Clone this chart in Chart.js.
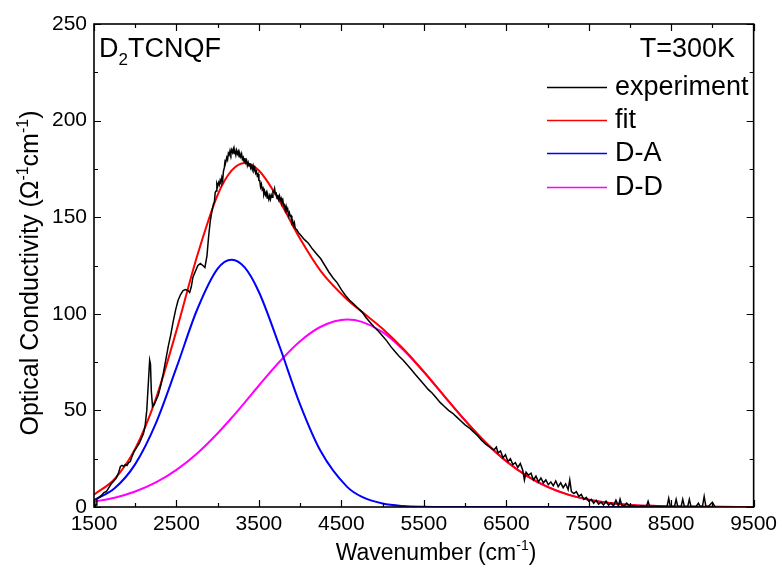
<!DOCTYPE html>
<html>
<head>
<meta charset="utf-8">
<script src="https://cdn.jsdelivr.net/npm/chart.js@4.4.1/dist/chart.umd.min.js"></script>
<style>
  html, body { margin: 0; padding: 0; background: #fff; }
</style>
</head>
<body>
<canvas id="chart" width="782" height="570"></canvas>
<script>
// ---- data ----
const xTickVals = [1500, 2500, 3500, 4500, 5500, 6500, 7500, 8500, 9500];
const xMinorVals = [2000, 3000, 4000, 5000, 6000, 7000, 8000, 9000];
const yTickVals = [0, 50, 100, 150, 200, 250];
const yMinorVals = [25, 75, 125, 175, 225];

// experiment (black, noisy)
const expWave = [
  1505, 1515, 1525, 1535, 1560, 1590, 1620, 1650, 1680, 1710, 1740, 1770, 1800, 1820, 1840, 1860, 1880, 1900, 1920, 1940,
  1960, 1990, 2020, 2050, 2080, 2100, 2120, 2140, 2160, 2175, 2185, 2195, 2210, 2230, 2250, 2280, 2310, 2340, 2370, 2400,
  2430, 2460, 2490, 2520, 2550, 2580, 2610, 2640, 2660, 2680, 2700, 2730, 2760, 2790, 2820, 2845, 2870, 2890, 2910, 2930,
  2950, 2960, 2970, 2980, 2990, 3000, 3010, 3020, 3030, 3040, 3050, 3060, 3070, 3080, 3090, 3100, 3110, 3120, 3130, 3140,
  3150, 3160, 3170, 3180, 3190, 3200, 3210, 3220, 3230, 3240, 3250, 3260, 3270, 3280, 3290, 3300, 3310, 3320, 3330, 3340,
  3350, 3360, 3370, 3380, 3390, 3400, 3410, 3420, 3430, 3440, 3450, 3460, 3470, 3480, 3490, 3500, 3510, 3520, 3530, 3540,
  3550, 3560, 3570, 3580, 3590, 3600, 3610, 3620, 3630, 3640, 3650, 3660, 3670, 3680, 3690, 3700, 3710, 3720, 3730, 3740,
  3750, 3760, 3770, 3780, 3790, 3800, 3810, 3820, 3830, 3840, 3850, 3860, 3870, 3880, 3890, 3900, 3910, 3920, 3930, 3940,
  3960, 3980, 4000, 4050, 4100, 4150, 4200, 4250, 4300, 4350, 4400,
  4450, 4500, 4550, 4600, 4650, 4700, 4750, 4800, 4850, 4900, 4950, 5000, 5050, 5100, 5150, 5200, 5250, 5300, 5350, 5400,
  5450, 5500, 5550, 5600, 5650, 5700, 5750, 5800, 5850, 5900, 5950, 6000, 6050, 6100, 6150, 6200, 6250, 6300, 6350, 6380,
  6400, 6430, 6460, 6490, 6520, 6550, 6580, 6610, 6640, 6670, 6700, 6720, 6740, 6770, 6800, 6830, 6860, 6890, 6920, 6950,
  6980, 7010, 7040, 7070, 7100, 7130, 7160, 7190, 7220, 7250, 7270, 7290, 7320, 7350, 7380, 7410, 7440, 7470, 7500, 7530,
  7560, 7590, 7620, 7650, 7680, 7710, 7740, 7770, 7800, 7830, 7860, 7880, 7900, 7930, 7960, 8000, 8050, 8100, 8150, 8200,
  8220, 8240, 8300, 8400, 8450, 8470, 8490, 8540, 8560, 8580, 8620, 8640, 8660, 8700, 8720, 8740, 8800, 8830, 8850, 8880,
  8900, 8920, 8950, 9000, 9030
];
const expVals = [
  3, 0.5, 1, 4, 5, 6, 7.5, 8, 10, 12, 13.5, 15, 18, 21, 21.5, 21, 22, 21.5, 23, 23.5,
  26, 29, 31, 33, 36, 38, 42, 50, 65, 76, 74, 60, 52, 53, 55, 58, 63, 69, 76, 83,
  89, 96, 102, 107, 110, 112, 112.5, 112, 111, 114, 119, 122, 125, 126, 125, 124, 130, 140, 148, 153,
  157, 157.8, 162.8, 163.5, 167.3, 166, 167.9, 166.7, 169.1, 167.8, 170.5, 168.8, 173.8, 175.5, 179.3, 179, 180.9, 179.7, 183.1, 182.3,
  184.5, 182.8, 184.8, 183.5, 185.3, 183, 184.2, 182.2, 184.6, 182.8, 184, 181.3, 182.8, 181.3, 182.8, 180, 180.9, 178.7, 180.6, 178.3,
  179.5, 176.8, 178.3, 176.5, 178, 175.5, 176.6, 174.7, 176.6, 174.3, 175.5, 172.8, 173.8, 171.5, 172.3, 169, 168.9, 165.7, 167.1, 164.3,
  165, 161.8, 163.3, 161.5, 162.8, 160, 161.1, 159.2, 161.1, 159.3, 161.5, 160.3, 163.3, 163, 164.8, 162, 162.4, 159.7, 161.6, 159.3,
  161, 158.8, 159.8, 157.5, 158.8, 156, 156.4, 153.7, 155.6, 153.3, 154, 150.8, 152.3, 150.5, 150.8, 147, 147.9, 145.7, 147.1, 144.3,
  143.5, 142, 141, 138.5, 136.5, 133.5, 131, 128.5, 125, 121.5, 118.5,
  116, 112.5, 109.5, 107, 105, 103, 101, 98, 95.5, 93, 91, 88.5, 86, 83, 80.5, 78, 76, 73.5, 71, 68.5,
  66, 63.5, 61, 59, 56.5, 54, 52, 50, 48.5, 46.5, 44.5, 42.5, 41, 39, 37, 34.5, 32.5, 31, 29.5, 31,
  28, 29, 25.5, 27, 23.5, 25, 22, 23, 20.5, 22.5, 19, 14, 18, 16.5, 17.5, 14, 16, 13, 15, 12.5,
  14, 11.5, 13, 11, 13.5, 10.5, 12.5, 10, 12, 9, 14, 8, 7, 8, 5.5, 6.5, 4, 5, 3, 4,
  2, 3.5, 1.5, 2.5, 1, 3, 1, 2, 0.5, 3.5, 0.5, 4, 1, 0.5, 2, 0.3, 0.8, 0.2, 0.5, 0.3,
  3, 0.2, 0.4, 0.2, 0.3, 4.5, 0.3, 0.2, 4, 0.3, 0.2, 4, 0.3, 0.2, 4, 0.3, 0.2, 2, 0.3, 0.5,
  5.5, 0.5, 0.3, 2.5, 0.2
];

// fitted components
const modelWave = [1500, 1750, 2000, 2250, 2500, 2750, 3000, 3170, 3330, 3500, 3750, 4000, 4250, 4570, 4750, 5000,
  5250, 5500, 5750, 6000, 6250, 6500, 6750, 7000, 7250, 7500, 7750, 8000, 8250, 8500, 9000, 9500];
const fitVals = [6.4, 14.5, 30.2, 56.0, 91.3, 129.8, 161.6, 174.2, 178.1, 174.2, 158.4, 138.8, 122.1, 107.4, 101.0, 92.3,
  81.9, 70.0, 57.3, 44.8, 33.4, 23.7, 16.1, 10.4, 6.4, 3.8, 2.1, 1.1, 0.6, 0.3, 0.1, 0];
const daVals = [3.6, 9.7, 22.2, 43.3, 72.1, 102.1, 123.4, 128, 123.9, 111.3, 83.2, 53.0, 28.8, 10.4, 5.2, 1.8,
  0.5, 0.1, 0, 0, 0, 0, 0, 0, 0, 0, 0, 0, 0, 0, 0, 0];
const ddVals = [2.8, 4.8, 8.0, 12.7, 19.2, 27.7, 38.2, 46.2, 54.2, 62.9, 75.2, 85.8, 93.3, 97, 95.8, 90.5,
  81.4, 69.9, 57.3, 44.8, 33.4, 23.7, 16.1, 10.4, 6.4, 3.8, 2.1, 1.1, 0.6, 0.3, 0.1, 0];

const seriesNames = ['experiment', 'fit', 'D-A', 'D-D'];
const seriesColors = ['#000000', '#ff0000', '#0000ff', '#ff00ff'];

const FONT = "'Liberation Sans', Arial, sans-serif";

const pts = (xs, ys) => xs.map((x, i) => ({ x, y: ys[i] }));

// text with sub/superscripts
function drawRich(ctx, parts, x, y, size, align) {
  const small = Math.round(size * 0.62);
  let w = 0;
  parts.forEach(p => {
    ctx.font = (p.sup || p.sub ? small : size) + 'px ' + FONT;
    w += ctx.measureText(p.t).width;
  });
  let cx = align === 'center' ? x - w / 2 : align === 'right' ? x - w : x;
  ctx.textAlign = 'left';
  ctx.textBaseline = 'alphabetic';
  parts.forEach(p => {
    ctx.font = (p.sup || p.sub ? small : size) + 'px ' + FONT;
    const dy = p.sup ? -size * 0.42 : p.sub ? size * 0.28 : 0;
    ctx.fillText(p.t, cx, y + dy);
    cx += ctx.measureText(p.t).width;
  });
}

// frame, inward ticks, labels, legend
const decor = {
  id: 'decor',
  afterDraw(chart) {
    const { ctx, chartArea: a, scales: { x, y } } = chart;
    ctx.save();
    ctx.strokeStyle = '#000';
    ctx.lineWidth = 1.6;
    ctx.strokeRect(a.left, a.top, a.right - a.left, a.bottom - a.top);

    ctx.lineWidth = 1.2;
    ctx.beginPath();
    const tickX = (vals, len) => vals.forEach(v => {
      const px = Math.round(x.getPixelForValue(v)) + 0.5;
      ctx.moveTo(px, a.bottom); ctx.lineTo(px, a.bottom - len);
      ctx.moveTo(px, a.top); ctx.lineTo(px, a.top + len);
    });
    const tickY = (vals, len) => vals.forEach(v => {
      const py = Math.round(y.getPixelForValue(v)) + 0.5;
      ctx.moveTo(a.left, py); ctx.lineTo(a.left + len, py);
      ctx.moveTo(a.right, py); ctx.lineTo(a.right - len, py);
    });
    tickX(xTickVals, 7); tickX(xMinorVals, 4);
    tickY(yTickVals, 7); tickY(yMinorVals, 4);
    ctx.stroke();

    ctx.fillStyle = '#000';
    // axis titles
    drawRich(ctx, [{ t: 'Wavenumber (cm' }, { t: '-1', sup: true }, { t: ')' }], 436, 560, 23, 'center');
    ctx.save();
    ctx.translate(38, 273);
    ctx.rotate(-Math.PI / 2);
    drawRich(ctx, [{ t: 'Optical Conductivity (\u03A9' }, { t: '-1', sup: true }, { t: 'cm' }, { t: '-1', sup: true }, { t: ')' }], 0, 0, 25, 'center');
    ctx.restore();

    // annotations
    drawRich(ctx, [{ t: 'D' }, { t: '2', sub: true }, { t: 'TCNQF' }], 99, 57, 27, 'left');
    drawRich(ctx, [{ t: 'T=300K' }], 735, 57, 27, 'right');

    // legend
    const rows = [87, 120, 153, 187];
    seriesNames.forEach((name, i) => {
      ctx.strokeStyle = seriesColors[i];
      ctx.lineWidth = 1.5;
      ctx.beginPath();
      ctx.moveTo(547, rows[i] + 0.5);
      ctx.lineTo(607, rows[i] + 0.5);
      ctx.stroke();
      ctx.font = '27px ' + FONT;
      ctx.textAlign = 'left';
      ctx.textBaseline = 'middle';
      ctx.fillText(name, 615, rows[i] + 1);
    });
    ctx.restore();
  }
};

const series = [pts(expWave, expVals), pts(modelWave, fitVals), pts(modelWave, daVals), pts(modelWave, ddVals)];

new Chart(document.getElementById('chart'), {
  type: 'line',
  data: {
    datasets: series.map((data, i) => ({
      label: seriesNames[i],
      data,
      borderColor: seriesColors[i],
      borderWidth: i === 0 ? 1.5 : 2,
      pointRadius: 0,
      fill: false,
      tension: 0,
      cubicInterpolationMode: i === 0 ? 'default' : 'monotone',
      order: i
    }))
  },
  options: {
    responsive: false,
    animation: false,
    events: [],
    layout: { padding: { top: 24, right: 26, left: 0, bottom: 0 } },
    plugins: { legend: { display: false }, tooltip: { enabled: false } },
    scales: {
      x: {
        type: 'linear', min: 1500, max: 9500,
        grid: { display: false, drawTicks: false },
        border: { display: false },
        ticks: { color: '#000', font: { size: 21, family: FONT }, padding: 5, maxRotation: 0, autoSkip: false,
          callback: v => String(v) },
        afterBuildTicks: s => { s.ticks = xTickVals.map(v => ({ value: v })); },
        afterFit: s => { s.height = 63; }
      },
      y: {
        type: 'linear', min: 0, max: 250,
        grid: { display: false, drawTicks: false },
        border: { display: false },
        ticks: { color: '#000', font: { size: 21, family: FONT }, padding: 7, callback: v => String(v) },
        afterBuildTicks: s => { s.ticks = yTickVals.map(v => ({ value: v })); },
        afterFit: s => { s.width = 94; }
      }
    }
  },
  plugins: [decor]
});
</script>
</body>
</html>
